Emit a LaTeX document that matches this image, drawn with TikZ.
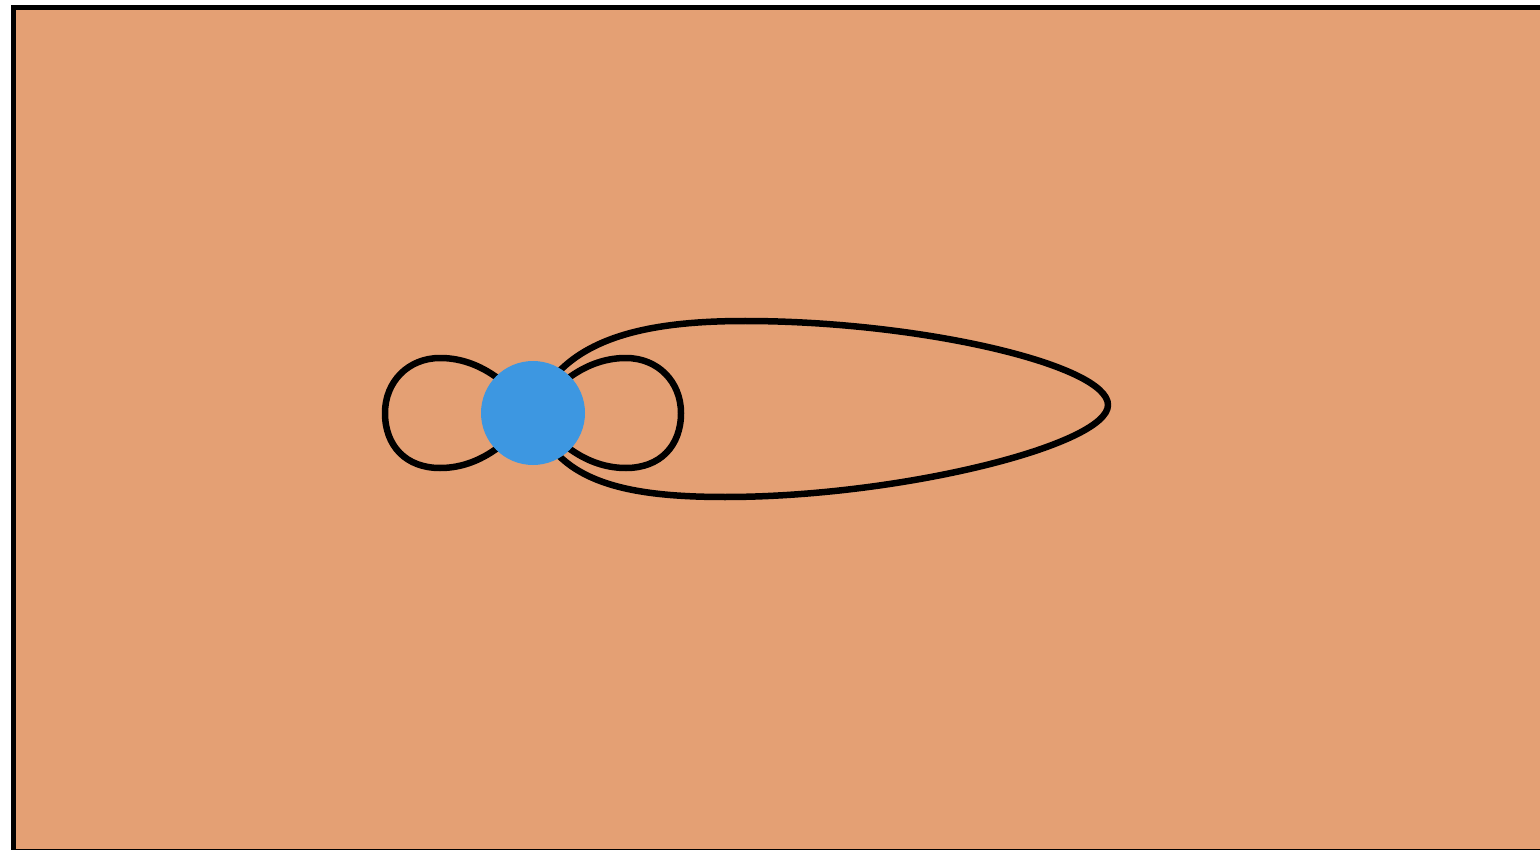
\documentclass[tikz,border=0pt]{standalone}
\definecolor{bgorange}{HTML}{E4A074}
\definecolor{dotblue}{HTML}{3D97E1}
\begin{document}
\begin{tikzpicture}[x=1pt,y=-1pt,
  loopline/.style={draw=black,line width=6.5pt,line join=round},
  hub/.style={circle,fill=dotblue,minimum size=104pt,inner sep=0pt}]
\useasboundingbox (0,0) rectangle (1540,850);
\fill[white] (0,0) rectangle (1540,850);
\draw[fill=bgorange,line width=5pt] (13.5,7.5) rectangle (1560,851.5);
\coordinate (c) at (533,413);
% left loop
\path[loopline] (c) .. controls (505,378) and (475,358) .. (440,358)
  .. controls (408,358) and (385,382) .. (385,413)
  .. controls (385,446) and (406,468) .. (440,468)
  .. controls (475,468) and (505,448) .. (c);
% right loop
\path[loopline] (c) .. controls (561,378) and (591,358) .. (626,358)
  .. controls (658,358) and (681,382) .. (681,413)
  .. controls (681,446) and (660,468) .. (626,468)
  .. controls (591,468) and (561,448) .. (c);
% big loop
\path[loopline] (c) .. controls (560,340) and (640,321) .. (745,321)
  .. controls (920,321) and (1108,365) .. (1108,405)
  .. controls (1108,445) and (900,497) .. (725,497)
  .. controls (620,497) and (555,480) .. (c);
\node[hub] (h) at (c) {};
\end{tikzpicture}
\end{document}
